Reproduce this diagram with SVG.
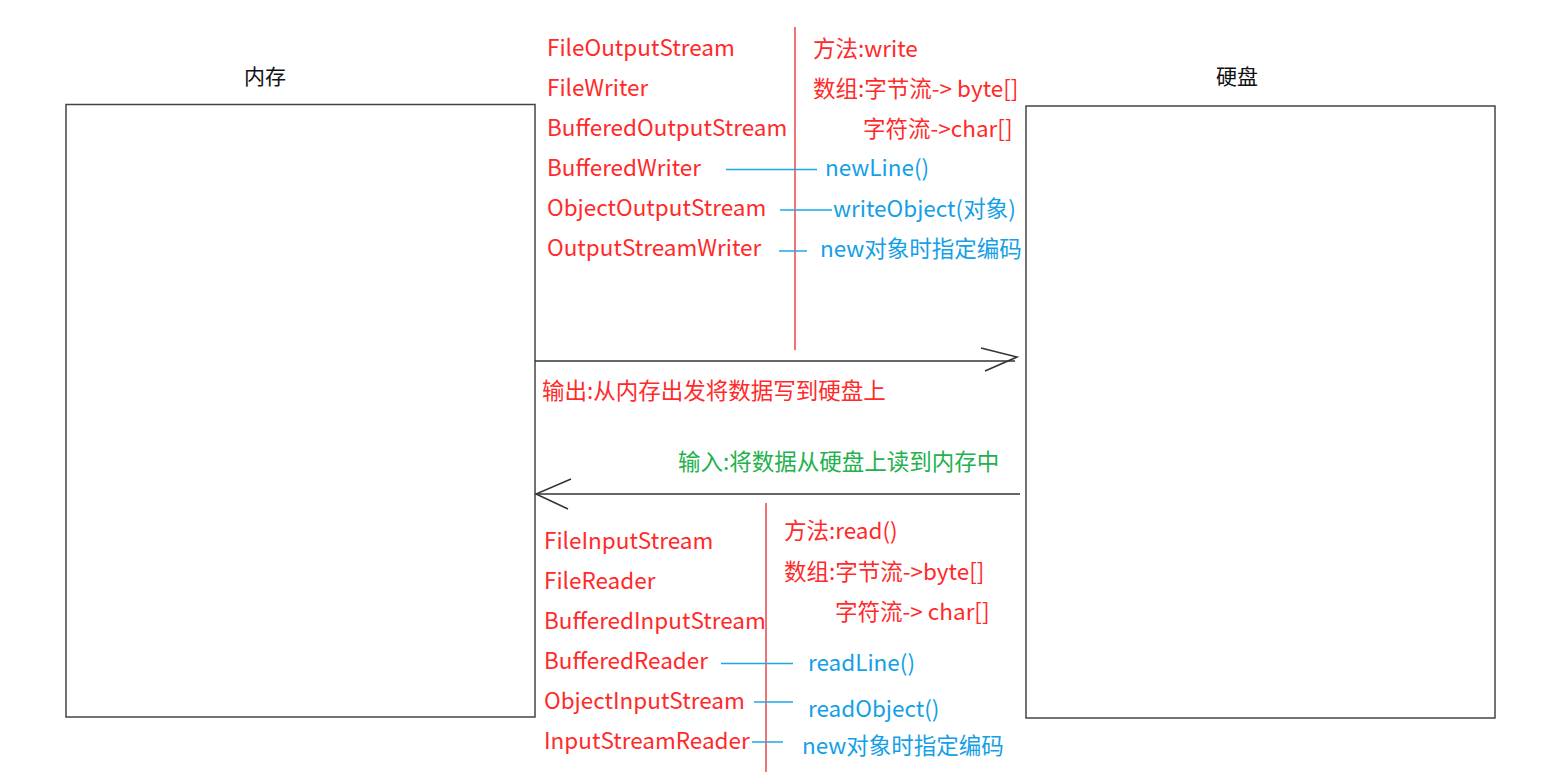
<svg xmlns="http://www.w3.org/2000/svg" width="1541" height="775" viewBox="0 0 1541 775">
<style>
text{font-family:"Noto Sans CJK SC","Open Sans",sans-serif;font-size:22.5px}
.r{fill:#ff2a2a}
.b{fill:#14a0e6}
.g{fill:#22b14c}
.k{fill:#111;font-size:21px}
.box{fill:#fff;stroke:#444;stroke-width:1.5}
.rl{stroke:#ee4444;stroke-width:1.5}
.bl{stroke:#1ea8e8;stroke-width:1.5}
.ar{stroke:#333;stroke-width:1.5;fill:none}
</style>
<rect width="1541" height="775" fill="#fff"/>
<g id="memory">
<rect class="box" x="66" y="104.5" width="469" height="612.5"/>
<text class="k" x="244" y="84">内存</text>
</g>
<g id="disk">
<rect class="box" x="1026" y="106" width="469" height="612"/>
<text class="k" x="1216" y="84">硬盘</text>
</g>
<g id="output-labels">
<text class="r" x="547" y="56">FileOutputStream</text>
<text class="r" x="547" y="96">FileWriter</text>
<text class="r" x="547" y="136">BufferedOutputStream</text>
<text class="r" x="547" y="176">BufferedWriter</text>
<text class="r" x="547" y="216">ObjectOutputStream</text>
<text class="r" x="547" y="256">OutputStreamWriter</text>
<text class="r" x="813" y="57">方法:write</text>
<text class="r" x="813" y="97">数组:字节流-&gt; byte[]</text>
<text class="r" x="863" y="137">字符流-&gt;char[]</text>
<text class="b" x="825" y="176">newLine()</text>
<text class="b" x="833" y="217">writeObject(对象)</text>
<text class="b" x="820" y="257">new对象时指定编码</text>
<text class="r" x="542" y="399">输出:从内存出发将数据写到硬盘上</text>
</g>
<g id="input-labels">
<text class="g" x="678" y="470">输入:将数据从硬盘上读到内存中</text>
<text class="r" x="544" y="549">FileInputStream</text>
<text class="r" x="544" y="589">FileReader</text>
<text class="r" x="544" y="629">BufferedInputStream</text>
<text class="r" x="544" y="669">BufferedReader</text>
<text class="r" x="544" y="709">ObjectInputStream</text>
<text class="r" x="544" y="749">InputStreamReader</text>
<text class="r" x="784" y="539">方法:read()</text>
<text class="r" x="784" y="580">数组:字节流-&gt;byte[]</text>
<text class="r" x="835" y="620">字符流-&gt; char[]</text>
<text class="b" x="808" y="671">readLine()</text>
<text class="b" x="808" y="717">readObject()</text>
<text class="b" x="802" y="754">new对象时指定编码</text>
</g>
<g id="connectors">
<line class="rl" x1="795" y1="27" x2="795" y2="350"/>
<line class="rl" x1="766" y1="503" x2="766" y2="772"/>
<line class="bl" x1="726" y1="169.5" x2="817" y2="169.5"/>
<line class="bl" x1="780" y1="210" x2="832" y2="210"/>
<line class="bl" x1="779" y1="251" x2="807" y2="251"/>
<line class="bl" x1="721" y1="663.5" x2="793" y2="663.5"/>
<line class="bl" x1="754" y1="702" x2="793" y2="702"/>
<line class="bl" x1="752" y1="742" x2="783" y2="742"/>
<line class="ar" x1="535" y1="361" x2="1015" y2="361"/>
<polyline class="ar" points="981,348 1017,357 985,371"/>
<line class="ar" x1="536" y1="494" x2="1020" y2="494"/>
<polyline class="ar" points="571,479 536,494 568,509"/>
</g>
</svg>
